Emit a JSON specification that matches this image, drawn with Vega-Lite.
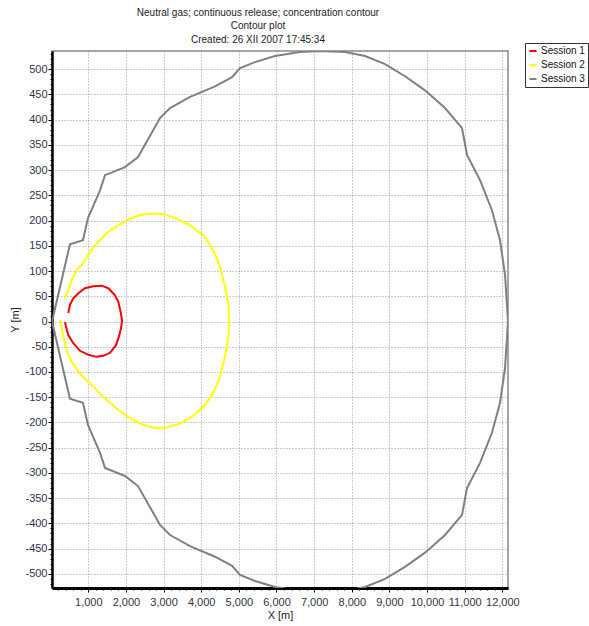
{
  "$schema": "https://vega.github.io/schema/vega-lite/v6.json",
  "width": 456,
  "height": 537,
  "autosize": "none",
  "padding": {"left": 52, "top": 51, "right": 81, "bottom": 38},
  "background": "white",
  "title": {
    "text": ["Neutral gas; continuous release; concentration contour", "Contour plot", "Created: 26 XII 2007  17:45:34"],
    "fontSize": 10,
    "font": "Liberation Sans",
    "fontWeight": "normal",
    "color": "#222222",
    "lineHeight": 13.5,
    "anchor": "middle",
    "dx": -22,
    "offset": -2
  },
  "config": {
    "view": {"stroke": "#888888", "strokeWidth": 1.5},
    "font": "Liberation Sans"
  },
  "data": {
    "values": [
      {"s": "Session 1", "i": 0, "x": 381, "y": -1},
      {"s": "Session 1", "i": 1, "x": 408, "y": -10},
      {"s": "Session 1", "i": 2, "x": 469, "y": -27},
      {"s": "Session 1", "i": 3, "x": 602, "y": -43},
      {"s": "Session 1", "i": 4, "x": 780, "y": -58},
      {"s": "Session 1", "i": 5, "x": 1001, "y": -66},
      {"s": "Session 1", "i": 6, "x": 1222, "y": -70},
      {"s": "Session 1", "i": 7, "x": 1400, "y": -68},
      {"s": "Session 1", "i": 8, "x": 1577, "y": -62},
      {"s": "Session 1", "i": 9, "x": 1736, "y": -47},
      {"s": "Session 1", "i": 10, "x": 1825, "y": -27},
      {"s": "Session 1", "i": 11, "x": 1878, "y": -10},
      {"s": "Session 1", "i": 12, "x": 1895, "y": 2},
      {"s": "Session 1", "i": 13, "x": 1860, "y": 19},
      {"s": "Session 1", "i": 14, "x": 1798, "y": 39},
      {"s": "Session 1", "i": 15, "x": 1709, "y": 52},
      {"s": "Session 1", "i": 16, "x": 1532, "y": 66},
      {"s": "Session 1", "i": 17, "x": 1355, "y": 71},
      {"s": "Session 1", "i": 18, "x": 1134, "y": 70},
      {"s": "Session 1", "i": 19, "x": 912, "y": 66},
      {"s": "Session 1", "i": 20, "x": 735, "y": 56},
      {"s": "Session 1", "i": 21, "x": 602, "y": 46},
      {"s": "Session 1", "i": 22, "x": 514, "y": 33},
      {"s": "Session 1", "i": 23, "x": 469, "y": 17},

      {"s": "Session 2", "i": 0, "x": 249, "y": 3},
      {"s": "Session 2", "i": 1, "x": 337, "y": -30},
      {"s": "Session 2", "i": 2, "x": 426, "y": -58},
      {"s": "Session 2", "i": 3, "x": 558, "y": -80},
      {"s": "Session 2", "i": 4, "x": 780, "y": -103},
      {"s": "Session 2", "i": 5, "x": 957, "y": -116},
      {"s": "Session 2", "i": 6, "x": 1222, "y": -136},
      {"s": "Session 2", "i": 7, "x": 1488, "y": -155},
      {"s": "Session 2", "i": 8, "x": 1798, "y": -175},
      {"s": "Session 2", "i": 9, "x": 2108, "y": -192},
      {"s": "Session 2", "i": 10, "x": 2462, "y": -205},
      {"s": "Session 2", "i": 11, "x": 2772, "y": -211},
      {"s": "Session 2", "i": 12, "x": 3082, "y": -210},
      {"s": "Session 2", "i": 13, "x": 3436, "y": -202},
      {"s": "Session 2", "i": 14, "x": 3746, "y": -189},
      {"s": "Session 2", "i": 15, "x": 4056, "y": -169},
      {"s": "Session 2", "i": 16, "x": 4321, "y": -142},
      {"s": "Session 2", "i": 17, "x": 4499, "y": -109},
      {"s": "Session 2", "i": 18, "x": 4632, "y": -70},
      {"s": "Session 2", "i": 19, "x": 4720, "y": -30},
      {"s": "Session 2", "i": 20, "x": 4747, "y": 0},
      {"s": "Session 2", "i": 21, "x": 4720, "y": 36},
      {"s": "Session 2", "i": 22, "x": 4632, "y": 69},
      {"s": "Session 2", "i": 23, "x": 4499, "y": 109},
      {"s": "Session 2", "i": 24, "x": 4321, "y": 142},
      {"s": "Session 2", "i": 25, "x": 4056, "y": 171},
      {"s": "Session 2", "i": 26, "x": 3702, "y": 191},
      {"s": "Session 2", "i": 27, "x": 3348, "y": 204},
      {"s": "Session 2", "i": 28, "x": 2993, "y": 213},
      {"s": "Session 2", "i": 29, "x": 2684, "y": 214},
      {"s": "Session 2", "i": 30, "x": 2374, "y": 211},
      {"s": "Session 2", "i": 31, "x": 2108, "y": 204},
      {"s": "Session 2", "i": 32, "x": 1797, "y": 191},
      {"s": "Session 2", "i": 33, "x": 1488, "y": 175},
      {"s": "Session 2", "i": 34, "x": 1222, "y": 155},
      {"s": "Session 2", "i": 35, "x": 1001, "y": 132},
      {"s": "Session 2", "i": 36, "x": 824, "y": 112},
      {"s": "Session 2", "i": 37, "x": 691, "y": 102},
      {"s": "Session 2", "i": 38, "x": 558, "y": 82},
      {"s": "Session 2", "i": 39, "x": 469, "y": 62},
      {"s": "Session 2", "i": 40, "x": 381, "y": 45},

      {"s": "Session 3", "i": 0, "x": 36, "y": 0},
      {"s": "Session 3", "i": 1, "x": 513, "y": 153},
      {"s": "Session 3", "i": 2, "x": 858, "y": 161},
      {"s": "Session 3", "i": 3, "x": 992, "y": 205},
      {"s": "Session 3", "i": 4, "x": 1311, "y": 260},
      {"s": "Session 3", "i": 5, "x": 1444, "y": 290},
      {"s": "Session 3", "i": 6, "x": 1975, "y": 306},
      {"s": "Session 3", "i": 7, "x": 2321, "y": 326},
      {"s": "Session 3", "i": 8, "x": 2906, "y": 403},
      {"s": "Session 3", "i": 9, "x": 3172, "y": 423},
      {"s": "Session 3", "i": 10, "x": 3703, "y": 445},
      {"s": "Session 3", "i": 11, "x": 4367, "y": 466},
      {"s": "Session 3", "i": 12, "x": 4819, "y": 484},
      {"s": "Session 3", "i": 13, "x": 5031, "y": 502},
      {"s": "Session 3", "i": 14, "x": 5430, "y": 514},
      {"s": "Session 3", "i": 15, "x": 5961, "y": 526},
      {"s": "Session 3", "i": 16, "x": 6625, "y": 534},
      {"s": "Session 3", "i": 17, "x": 7157, "y": 536},
      {"s": "Session 3", "i": 18, "x": 7821, "y": 534},
      {"s": "Session 3", "i": 19, "x": 8352, "y": 526},
      {"s": "Session 3", "i": 20, "x": 8883, "y": 510},
      {"s": "Session 3", "i": 21, "x": 9414, "y": 486},
      {"s": "Session 3", "i": 22, "x": 9945, "y": 458},
      {"s": "Session 3", "i": 23, "x": 10477, "y": 423},
      {"s": "Session 3", "i": 24, "x": 10929, "y": 383},
      {"s": "Session 3", "i": 25, "x": 11061, "y": 330},
      {"s": "Session 3", "i": 26, "x": 11407, "y": 280},
      {"s": "Session 3", "i": 27, "x": 11726, "y": 220},
      {"s": "Session 3", "i": 28, "x": 11938, "y": 161},
      {"s": "Session 3", "i": 29, "x": 12071, "y": 92},
      {"s": "Session 3", "i": 30, "x": 12150, "y": 0},
      {"s": "Session 3", "i": 31, "x": 12071, "y": -92},
      {"s": "Session 3", "i": 32, "x": 11938, "y": -161},
      {"s": "Session 3", "i": 33, "x": 11726, "y": -220},
      {"s": "Session 3", "i": 34, "x": 11407, "y": -280},
      {"s": "Session 3", "i": 35, "x": 11061, "y": -330},
      {"s": "Session 3", "i": 36, "x": 10929, "y": -383},
      {"s": "Session 3", "i": 37, "x": 10477, "y": -423},
      {"s": "Session 3", "i": 38, "x": 9945, "y": -458},
      {"s": "Session 3", "i": 39, "x": 9414, "y": -486},
      {"s": "Session 3", "i": 40, "x": 8883, "y": -510},
      {"s": "Session 3", "i": 41, "x": 8352, "y": -526},
      {"s": "Session 3", "i": 42, "x": 7821, "y": -534},
      {"s": "Session 3", "i": 43, "x": 7157, "y": -536},
      {"s": "Session 3", "i": 44, "x": 6625, "y": -534},
      {"s": "Session 3", "i": 45, "x": 5961, "y": -526},
      {"s": "Session 3", "i": 46, "x": 5430, "y": -514},
      {"s": "Session 3", "i": 47, "x": 5031, "y": -502},
      {"s": "Session 3", "i": 48, "x": 4819, "y": -484},
      {"s": "Session 3", "i": 49, "x": 4367, "y": -466},
      {"s": "Session 3", "i": 50, "x": 3703, "y": -445},
      {"s": "Session 3", "i": 51, "x": 3172, "y": -423},
      {"s": "Session 3", "i": 52, "x": 2906, "y": -403},
      {"s": "Session 3", "i": 53, "x": 2321, "y": -326},
      {"s": "Session 3", "i": 54, "x": 1975, "y": -306},
      {"s": "Session 3", "i": 55, "x": 1444, "y": -290},
      {"s": "Session 3", "i": 56, "x": 1311, "y": -260},
      {"s": "Session 3", "i": 57, "x": 992, "y": -205},
      {"s": "Session 3", "i": 58, "x": 858, "y": -161},
      {"s": "Session 3", "i": 59, "x": 513, "y": -153},
      {"s": "Session 3", "i": 60, "x": 36, "y": 0}
    ]
  },
  "mark": {"type": "line", "strokeWidth": 2, "clip": true},
  "encoding": {
    "x": {
      "field": "x",
      "type": "quantitative",
      "scale": {"domain": [36, 12150], "nice": false, "zero": false},
      "axis": {
        "title": "X [m]",
        "values": [200,400,600,800,1000,1200,1400,1600,1800,2000,2200,2400,2600,2800,3000,3200,3400,3600,3800,4000,4200,4400,4600,4800,5000,5200,5400,5600,5800,6000,6200,6400,6600,6800,7000,7200,7400,7600,7800,8000,8200,8400,8600,8800,9000,9200,9400,9600,9800,10000,10200,10400,10600,10800,11000,11200,11400,11600,11800,12000],
        "labelExpr": "datum.value % 1000 === 0 ? format(datum.value, ',') : ''",
        "grid": true,
        "gridOpacity": {"condition": {"test": "datum.value % 1000 === 0", "value": 1}, "value": 0},
        "gridDash": [1, 2],
        "gridColor": "#999999",
        "domainColor": "#000000",
        "domainWidth": 3,
        "tickColor": "#000000",
        "tickSize": {"condition": {"test": "datum.value % 1000 === 0", "value": 4}, "value": 2},
        "labelOverlap": false,
        "labelFlush": false,
        "labelFontSize": 11,
        "labelFont": "Liberation Sans",
        "labelColor": "#333344",
        "labelPadding": 4,
        "titleFont": "Liberation Sans",
        "titleFontSize": 11,
        "titleFontWeight": "normal",
        "titleColor": "#222222",
        "titlePadding": 2
      }
    },
    "y": {
      "field": "y",
      "type": "quantitative",
      "scale": {"domain": [-528, 536], "nice": false, "zero": false},
      "axis": {
        "title": "Y [m]",
        "values": [-520,-510,-500,-490,-480,-470,-460,-450,-440,-430,-420,-410,-400,-390,-380,-370,-360,-350,-340,-330,-320,-310,-300,-290,-280,-270,-260,-250,-240,-230,-220,-210,-200,-190,-180,-170,-160,-150,-140,-130,-120,-110,-100,-90,-80,-70,-60,-50,-40,-30,-20,-10,0,10,20,30,40,50,60,70,80,90,100,110,120,130,140,150,160,170,180,190,200,210,220,230,240,250,260,270,280,290,300,310,320,330,340,350,360,370,380,390,400,410,420,430,440,450,460,470,480,490,500,510,520,530],
        "labelExpr": "datum.value % 50 === 0 ? '' + datum.value : ''",
        "grid": true,
        "gridOpacity": {"condition": {"test": "datum.value % 50 === 0", "value": 1}, "value": 0},
        "gridDash": [1, 2],
        "gridColor": "#999999",
        "domainColor": "#000000",
        "domainWidth": 2.5,
        "tickColor": "#000000",
        "tickSize": {"condition": {"test": "datum.value % 50 === 0", "value": 4}, "value": 2},
        "labelOverlap": false,
        "labelFlush": false,
        "labelFontSize": 11,
        "labelFont": "Liberation Sans",
        "labelColor": "#333344",
        "labelPadding": 1,
        "titleFont": "Liberation Sans",
        "titleFontSize": 11,
        "titleFontWeight": "normal",
        "titleColor": "#222222",
        "titlePadding": 4
      }
    },
    "color": {
      "field": "s",
      "type": "nominal",
      "scale": {"domain": ["Session 1", "Session 2", "Session 3"], "range": ["#ff0000", "#ffff00", "#808080"]},
      "legend": {
        "title": null,
        "orient": "none",
        "legendX": 473,
        "legendY": -8,
        "symbolType": "stroke",
        "symbolStrokeWidth": 2,
        "symbolSize": 49,
        "labelFontSize": 10,
        "labelFont": "Liberation Sans",
        "labelColor": "#111111",
        "strokeColor": "#333333",
        "fillColor": "white",
        "padding": 3,
        "rowPadding": 4,
        "labelOffset": 3
      }
    },
    "order": {"field": "i", "type": "quantitative"}
  }
}
